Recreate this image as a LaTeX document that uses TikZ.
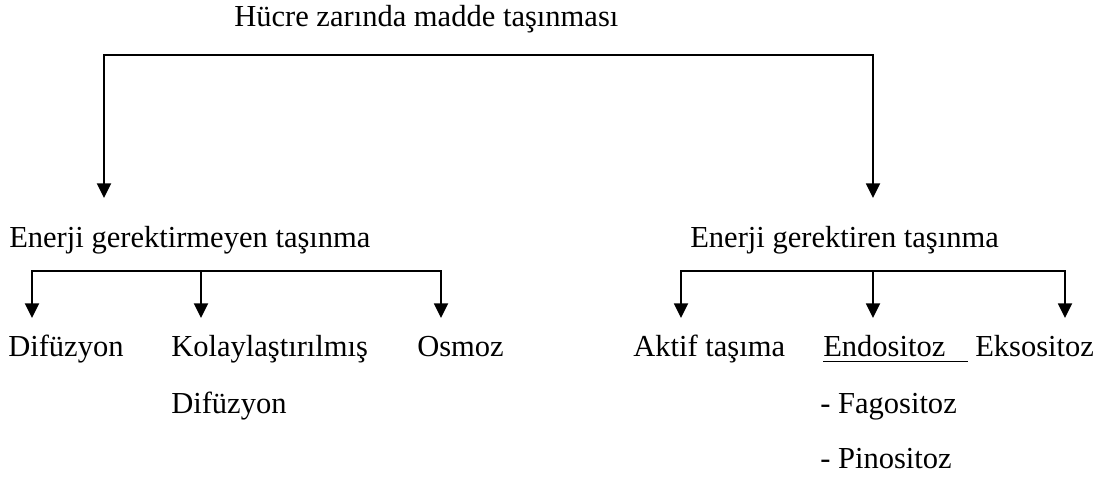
\documentclass[tikz,border=0pt]{standalone}
\usepackage{fontspec}
\setmainfont{Liberation Serif}
\usetikzlibrary{arrows.meta}
\begin{document}
\begin{tikzpicture}[x=0.75pt,y=-0.75pt,
  lbl/.style={anchor=base west,inner sep=0pt,font=\fontsize{22.9}{27}\selectfont},
  conn/.style={line width=1.4pt},
  arr/.style={conn,-{Triangle[length=11pt,width=10.5pt]}}]
\useasboundingbox (0,0) rectangle (1114,477);
% texts
\node[lbl] (root) at (234,27) {Hücre zarında madde taşınması};
\node[lbl] (pas) at (9,248) {Enerji gerektirmeyen taşınma};
\node[lbl] (act) at (690,248) {Enerji gerektiren taşınma};
\node[lbl] (dif) at (8,357) {Difüzyon};
\node[lbl] (kol) at (171,357) {Kolaylaştırılmış};
\node[lbl] (kol2) at (171,413) {Difüzyon};
\node[lbl] (osm) at (417,357) {Osmoz};
\node[lbl] (akt) at (633,357) {Aktif taşıma};
\node[lbl] (endo) at (823,357) {Endositoz};
\node[lbl] (ekso) at (975,357) {Eksositoz};
\node[lbl] (fago) at (820,413) {- Fagositoz};
\node[lbl] (pino) at (820,468) {- Pinositoz};
% junctions and tips
\coordinate (rootfork) at (488,55);
\coordinate (pastip) at (104,198);
\coordinate (acttip) at (873,198);
\coordinate (pasfork) at (201,271);
\coordinate (diftip) at (32,318);
\coordinate (koltip) at (201,318);
\coordinate (osmtip) at (441,318);
\coordinate (actfork) at (873,271);
\coordinate (akttip) at (681,318);
\coordinate (endotip) at (873,318);
\coordinate (eksotip) at (1065,318);
% connectors
\draw[arr] (rootfork) -| (pastip);
\draw[arr] (rootfork) -| (acttip);
\draw[arr] (pasfork) -| (diftip);
\draw[arr] (pasfork) -| (osmtip);
\draw[arr] (pasfork) -- (koltip);
\draw[arr] (actfork) -| (akttip);
\draw[arr] (actfork) -| (eksotip);
\draw[arr] (actfork) -- (endotip);
% underline of Endositoz
\draw[line width=1.1pt] ([yshift=-3.5pt]endo.base west) -- ++(145,0);
\end{tikzpicture}
\end{document}
